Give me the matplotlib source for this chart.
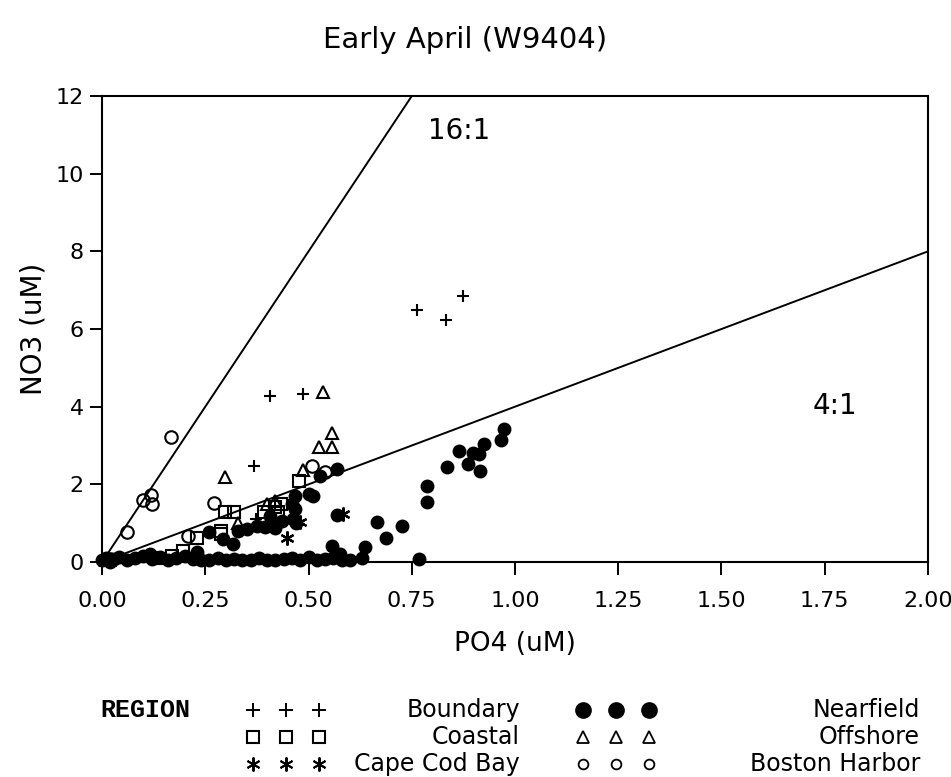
import matplotlib
matplotlib.use("Agg")
import matplotlib.pyplot as plt

# Early April (W9404) survey: NO3 vs PO4 by region
boundary_x = [0.407, 0.486, 0.368, 0.372, 0.762, 0.832, 0.873, 0.01]
boundary_y = [4.28, 4.33, 2.48, 1.12, 6.49, 6.24, 6.84, 0.05]

coastal_x = [0.298, 0.320, 0.478, 0.229, 0.288, 0.288, 0.433, 0.419, 0.197, 0.169, 0.391, 0.425, 0.02, 0.13]
coastal_y = [1.28, 1.28, 2.08, 0.61, 0.81, 0.72, 1.49, 1.41, 0.29, 0.16, 1.28, 1.30, 0.05, 0.10]

capecod_x = [0.479, 0.447, 0.584]
capecod_y = [1.02, 0.62, 1.24]

nearfield_x = [0.974, 0.965, 0.926, 0.914, 0.899, 0.864, 0.885, 0.915, 0.835, 0.787, 0.787,
               0.727, 0.688, 0.667, 0.768, 0.568, 0.528, 0.512, 0.500, 0.467, 0.467, 0.463,
               0.435, 0.407, 0.411, 0.375, 0.350, 0.330, 0.294, 0.318, 0.260, 0.568, 0.558,
               0.637, 0.576, 0.229, 0.116, 0.460, 0.470, 0.395, 0.420,
               0.00, 0.01, 0.02, 0.03, 0.04, 0.06, 0.08, 0.10, 0.12, 0.14, 0.16, 0.18,
               0.20, 0.22, 0.24, 0.26, 0.28, 0.30, 0.32, 0.34, 0.36, 0.38, 0.40, 0.42,
               0.44, 0.46, 0.48, 0.50, 0.52, 0.54, 0.56, 0.58, 0.60, 0.63]
nearfield_y = [3.43, 3.14, 3.03, 2.78, 2.81, 2.86, 2.52, 2.34, 2.45, 1.95, 1.54,
               0.94, 0.62, 1.03, 0.08, 2.40, 2.22, 1.71, 1.74, 1.71, 1.37, 1.11,
               1.06, 1.19, 0.98, 0.94, 0.85, 0.81, 0.59, 0.46, 0.76, 1.22, 0.42,
               0.38, 0.21, 0.25, 0.21, 1.50, 1.00, 0.90, 0.88,
               0.05, 0.10, 0.00, 0.08, 0.12, 0.05, 0.10, 0.15, 0.08, 0.12, 0.05, 0.10,
               0.15, 0.08, 0.06, 0.04, 0.10, 0.05, 0.08, 0.06, 0.05, 0.10, 0.06, 0.05,
               0.08, 0.10, 0.06, 0.12, 0.05, 0.08, 0.10, 0.06, 0.05, 0.10]

offshore_x = [0.298, 0.536, 0.558, 0.526, 0.558, 0.487, 0.399, 0.419, 0.330, 0.01]
offshore_y = [2.18, 4.39, 3.31, 2.97, 2.95, 2.37, 1.49, 1.58, 1.00, 0.05]

harbor_x = [0.167, 0.119, 0.100, 0.120, 0.061, 0.270, 0.209, 0.508, 0.540, 0.02]
harbor_y = [3.23, 1.73, 1.60, 1.49, 0.76, 1.52, 0.66, 2.46, 2.32, 0.08]

ratios = [16, 4]
ratio_labels = ["16:1", "4:1"]
ratio_label_pos = [(0.865, 11.1), (1.775, 4.02)]

x_ticks = [0.00, 0.25, 0.50, 0.75, 1.00, 1.25, 1.50, 1.75, 2.00]
y_ticks = [0, 2, 4, 6, 8, 10, 12]

ASTER = (6, 2, 0)

fig = plt.figure(figsize=(9.51, 7.77), dpi=100)
ax = fig.add_axes([0.1073, 0.2767, 0.8685, 0.5997])

for r in ratios:
    xe = min(2.0, 12.0 / r)
    ax.plot([0, xe], [0, r * xe], color="black", lw=1.4, zorder=1)
for lab, (tx, ty) in zip(ratio_labels, ratio_label_pos):
    ax.text(tx, ty, lab, fontsize=20, ha="center", va="center")

ms = 8
ax.plot(nearfield_x, nearfield_y, "o", color="black", ms=ms + 1, clip_on=False, zorder=3)
ax.plot(boundary_x, boundary_y, "+", color="black", ms=ms, mew=1.5, clip_on=False, zorder=4)
ax.plot(coastal_x, coastal_y, "s", mfc="none", mec="black", ms=ms, mew=1.5, clip_on=False, zorder=4)
ax.plot(capecod_x, capecod_y, marker=ASTER, ls="none", color="black", ms=ms + 2, mew=1.6,
        clip_on=False, zorder=4)
ax.plot(offshore_x, offshore_y, "^", mfc="none", mec="black", ms=ms + 1, mew=1.5, clip_on=False, zorder=4)
ax.plot(harbor_x, harbor_y, "o", mfc="none", mec="black", ms=ms + 1, mew=1.5, clip_on=False, zorder=4)

ax.set_xlim(0, 2)
ax.set_ylim(0, 12)
ax.set_xticks(x_ticks)
ax.set_xticklabels([f"{v:.2f}" for v in x_ticks])
ax.set_yticks(y_ticks)
ax.tick_params(direction="out", length=9, width=1.4, labelsize=16)
ax.tick_params(axis="x", pad=12)
ax.tick_params(axis="y", pad=4)
for s in ax.spines.values():
    s.set_linewidth(1.5)
ax.set_xlabel("PO4 (uM)", fontsize=19, labelpad=14)
ax.set_ylabel("NO3 (uM)", fontsize=20, labelpad=6)
fig.text(0.489, 0.948, "Early April (W9404)", fontsize=21, ha="center", va="center")

# legend, laid out in pixel space below the axes
leg = fig.add_axes([0, 0, 1, 1], zorder=-1)
leg.set_xlim(0, 951)
leg.set_ylim(777, 0)
leg.axis("off")
leg.text(100, 710, "REGION", family="Liberation Mono", weight="bold", fontsize=18, va="center")
entries = [
    ("Boundary", dict(marker="+", color="black", ms=10, mew=1.4)),
    ("Coastal", dict(marker="s", mfc="none", mec="black", ms=8, mew=1.5)),
    ("Cape Cod Bay", dict(marker=ASTER, color="black", ms=10, mew=1.4)),
    ("Nearfield", dict(marker="o", color="black", ms=11)),
    ("Offshore", dict(marker="^", mfc="none", mec="black", ms=8, mew=1.3)),
    ("Boston Harbor", dict(marker="o", mfc="none", mec="black", ms=7, mew=1.3)),
]
for i, (lab, kw) in enumerate(entries):
    col, row = divmod(i, 3)
    y = 710 + row * 27
    x0 = 253 + col * 330
    leg.plot([x0, x0 + 33, x0 + 66], [y, y, y], ls="none", **kw)
    leg.text(520 + col * 400, y, lab, fontsize=17, ha="right", va="center")

fig.savefig("out.png", dpi=100)
